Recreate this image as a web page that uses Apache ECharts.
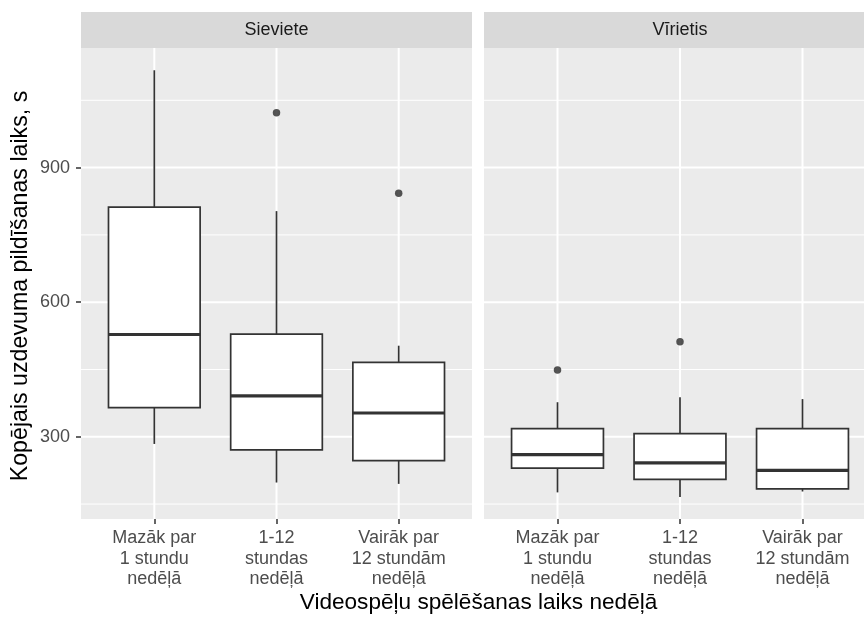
<!DOCTYPE html>
<html>
<head>
<meta charset="utf-8">
<script src="https://cdn.jsdelivr.net/npm/echarts@6/dist/echarts.min.js"></script>
<style>
html,body{margin:0;padding:0;background:#fff;}
#chart{width:864px;height:617px;}
</style>
</head>
<body>
<div id="chart"></div>
<script>
// ---- data ----
const categories = ['Mazāk par\n1 stundu\nnedēļā', '1-12\nstundas\nnedēļā', 'Vairāk par\n12 stundām\nnedēļā'];
const facets = ['Sieviete', 'Vīrietis'];
// [lower whisker, Q1, median, Q3, upper whisker] per category
const sievieteStats = [
  [284, 365, 528, 812, 1117],
  [198, 271, 391, 529, 803],
  [195, 247, 353, 466, 503]
];
const virietisStats = [
  [176, 230, 260, 318, 377],
  [166, 205, 242, 307, 388],
  [178, 184, 225, 318, 384]
];
// outliers: [category index, value]
const sievieteOutliers = [[1, 1022], [2, 843]];
const virietisOutliers = [[0, 449], [1, 512]];
const yMajorTicks = [300, 600, 900];
const yMinorTicks = [150, 450, 750, 1050];
const yTitle = 'Kopējais uzdevuma pildīšanas laiks, s';
const xTitle = 'Videospēļu spēlēšanas laiks nedēļā';

// ---- layout / style ----
const FONT = 'Liberation Sans, Arial, sans-serif';
const CHART_W = 864;
const panels = [
  {left: 81, width: 391},
  {left: 484, width: 392}   // right panel runs past the picture's right edge
];
const TOP = 48, HEIGHT = 471, STRIP_H = 36;
const Y_MIN = 116.7, Y_MAX = 1166.6;
const X_MIN = 0.4, X_MAX = 3.6;
const catPos = categories.map((c, i) => i + 1);
const LINE = '#333333';

// visible part of each panel and the matching x-extent
panels.forEach(p => {
  p.visible = Math.min(p.width, CHART_W - p.left);
  p.xMax = X_MIN + (X_MAX - X_MIN) * p.visible / p.width;
});

const chart = echarts.init(document.getElementById('chart'), null, {renderer: 'canvas'});

const grids = panels.map(p => ({
  left: p.left, width: p.visible, top: TOP, height: HEIGHT,
  show: true, backgroundColor: '#EBEBEB', borderWidth: 0, containLabel: false
}));

const xAxes = panels.map((p, i) => ({
  type: 'value', gridIndex: i, min: X_MIN, max: p.xMax,
  axisLine: {show: false},
  splitLine: {show: false},
  axisTick: {show: true, customValues: catPos, length: 5, lineStyle: {color: LINE, width: 1.5}},
  axisLabel: {
    show: true, customValues: catPos, margin: 9, hideOverlap: false,
    formatter: v => categories[Math.round(v) - 1] || '',
    color: '#4D4D4D', fontSize: 18, lineHeight: 20.4, fontFamily: FONT, align: 'center'
  }
}));

const yAxes = panels.map((p, i) => ({
  type: 'value', gridIndex: i, min: Y_MIN, max: Y_MAX,
  axisLine: {show: false},
  splitLine: {show: false},
  axisTick: {show: i === 0, customValues: yMajorTicks, length: 5, lineStyle: {color: LINE, width: 1.5}},
  axisLabel: {show: i === 0, customValues: yMajorTicks, margin: 11, color: '#4D4D4D', fontSize: 18, fontFamily: FONT}
}));

function gridSeries(idx) {
  const items = [];
  yMinorTicks.forEach(v => items.push([0, v, 0]));
  yMajorTicks.forEach(v => items.push([1, v, 0]));
  catPos.forEach(v => items.push([2, 0, v]));
  return {
    type: 'custom', xAxisIndex: idx, yAxisIndex: idx, silent: true, z: 1,
    data: items,
    encode: {x: 2, y: 1},
    renderItem: (params, api) => {
      const kind = api.value(0);
      const cs = params.coordSys;
      if (kind === 2) {
        const p = api.coord([api.value(2), Y_MIN]);
        return {type: 'line', shape: {x1: p[0], y1: cs.y, x2: p[0], y2: cs.y + cs.height},
          style: {stroke: '#FFFFFF', lineWidth: 2}};
      }
      const p = api.coord([X_MIN, api.value(1)]);
      return {type: 'line', shape: {x1: cs.x, y1: p[1], x2: cs.x + cs.width, y2: p[1]},
        style: {stroke: '#FFFFFF', lineWidth: kind === 1 ? 2 : 1}};
    }
  };
}

function boxSeries(idx, stats) {
  return {
    type: 'custom', xAxisIndex: idx, yAxisIndex: idx, z: 3,
    data: stats.map((s, i) => [catPos[i]].concat(s)),
    encode: {x: 0, y: [1, 2, 3, 4, 5]},
    renderItem: (params, api) => {
      const x = api.value(0);
      const hw = 0.375;
      const lo = api.coord([x, api.value(1)]);
      const q1 = api.coord([x - hw, api.value(2)]);
      const med = api.coord([x - hw, api.value(3)]);
      const q3 = api.coord([x + hw, api.value(4)]);
      const hi = api.coord([x, api.value(5)]);
      const medR = api.coord([x + hw, api.value(3)]);
      return {
        type: 'group',
        children: [
          {type: 'line', shape: {x1: hi[0], y1: hi[1], x2: hi[0], y2: q3[1]}, style: {stroke: LINE, lineWidth: 1.7}},
          {type: 'line', shape: {x1: lo[0], y1: q1[1], x2: lo[0], y2: lo[1]}, style: {stroke: LINE, lineWidth: 1.7}},
          {type: 'rect', shape: {x: q1[0], y: q3[1], width: q3[0] - q1[0], height: q1[1] - q3[1]},
            style: {fill: '#FFFFFF', stroke: LINE, lineWidth: 1.7}},
          {type: 'line', shape: {x1: med[0], y1: med[1], x2: medR[0], y2: med[1]}, style: {stroke: LINE, lineWidth: 3.2}}
        ]
      };
    }
  };
}

function outlierSeries(idx, outs) {
  return {
    type: 'scatter', xAxisIndex: idx, yAxisIndex: idx, z: 4,
    symbol: 'circle', symbolSize: 7.5,
    itemStyle: {color: '#2B2B2B'},
    data: outs.map(o => [catPos[o[0]], o[1]])
  };
}

const graphics = [];
panels.forEach((p, i) => {
  graphics.push({type: 'rect', silent: true, shape: {x: p.left, y: TOP - STRIP_H, width: p.width, height: STRIP_H},
    style: {fill: '#D9D9D9'}});
  graphics.push({type: 'text', silent: true, x: p.left + p.width / 2, y: TOP - STRIP_H / 2,
    style: {text: facets[i], fill: '#1A1A1A', font: '18px ' + FONT, textAlign: 'center', textVerticalAlign: 'middle'}});
});
graphics.push({type: 'text', silent: true,
  x: (panels[0].left + panels[1].left + panels[1].width) / 2, y: 603,
  style: {text: xTitle, fill: '#000', font: '22.6px ' + FONT, textAlign: 'center', textVerticalAlign: 'middle'}});
graphics.push({type: 'text', silent: true,
  x: 21, y: 286, rotation: Math.PI / 2,
  style: {text: yTitle, fill: '#000', font: '23.2px ' + FONT, textAlign: 'center', textVerticalAlign: 'middle'}});

chart.setOption({
  animation: false,
  backgroundColor: '#FFFFFF',
  grid: grids,
  xAxis: xAxes,
  yAxis: yAxes,
  graphic: graphics,
  series: [
    gridSeries(0), gridSeries(1),
    boxSeries(0, sievieteStats), boxSeries(1, virietisStats),
    outlierSeries(0, sievieteOutliers), outlierSeries(1, virietisOutliers)
  ]
});
</script>
</body>
</html>
